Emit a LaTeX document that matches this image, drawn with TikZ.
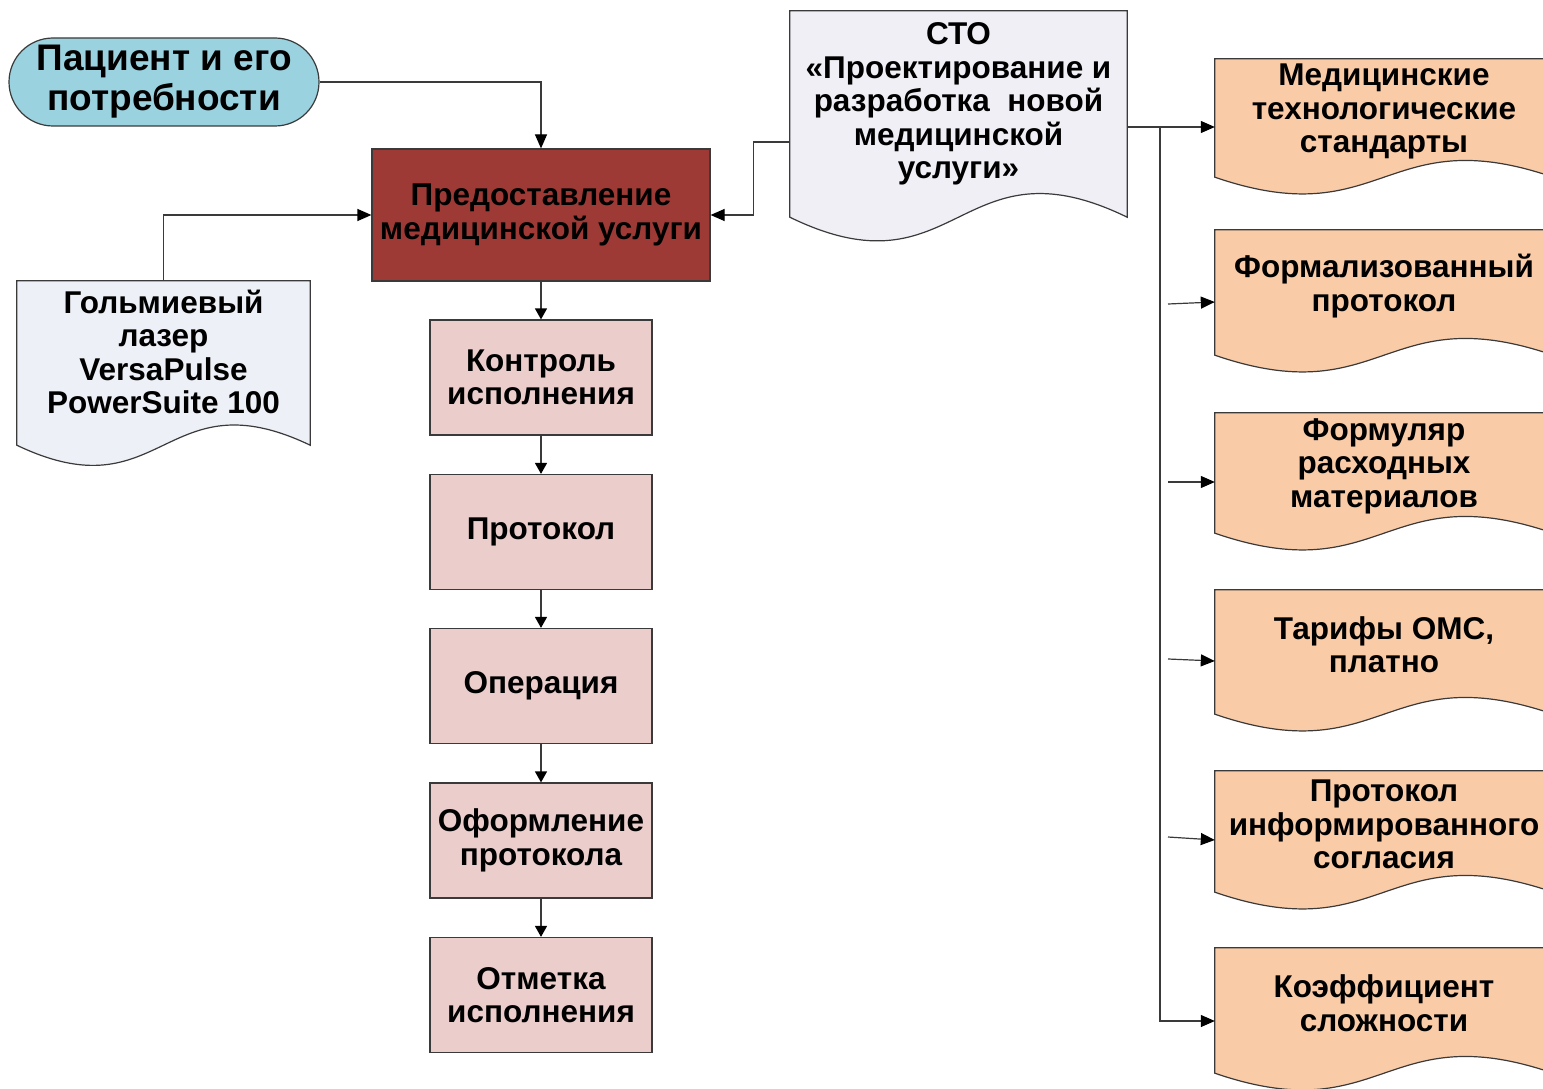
\documentclass[tikz,border=0pt]{standalone}
\usepackage{fontspec}
\setmainfont{Liberation Sans}
\usetikzlibrary{arrows.meta,calc,shapes.misc}
\definecolor{patblue}{HTML}{9BD2DF}
\definecolor{mainred}{HTML}{9E3A35}
\definecolor{pinkfill}{HTML}{EBCDCC}
\definecolor{orangedoc}{HTML}{F9CBA7}
\definecolor{ctofill}{HTML}{F0EFF5}
\definecolor{laserfill}{HTML}{EDF0F6}
\definecolor{edge}{HTML}{3A3A3A}
\newcommand\dtxt{\bfseries\fontsize{31.5}{33.5}\selectfont}
\newcommand\ptxt{\bfseries\fontsize{37}{40}\selectfont}
\newcommand\docshape[4]{%
  \path[fill=#2, draw=edge, line width=1.2pt] (#1.south west) -- (#1.north west) -- (#1.north east) -- (#1.south east) .. controls +(-#3/2,-#4) and +(#3/2,#4) .. (#1.south west) -- cycle;}
\tikzset{
  box/.style={draw=edge, line width=1.2pt, rectangle, inner sep=0pt, align=center, font=\dtxt},
  pinkbox/.style={box, fill=pinkfill, minimum width=222pt, minimum height=115pt},
  docarea/.style={rectangle, inner sep=0pt},
  lbl/.style={align=center, font=\dtxt, inner sep=0pt},
  arr/.style={draw=edge, line width=1.2pt, -{Triangle[length=14pt,width=12pt,color=black]}},
  sarr/.style={draw=edge, line width=1.2pt, -{Triangle[length=11pt,width=12pt,color=black]}}
}
\begin{document}
\begin{tikzpicture}[x=1pt,y=-1pt]
\useasboundingbox (0,0) rectangle (1543,1089);
\clip (0,0) rectangle (1543,1089);
\fill[white] (0,0) rectangle (1543,1089);

% patient
\node[draw=edge, line width=1.2pt, rounded rectangle, fill=patblue, minimum width=310pt, minimum height=88pt, inner sep=0pt, align=center, font=\ptxt] (pat) at (164,82) {Пациент и его\\потребности};

% main box
\node[box, fill=mainred, minimum width=338pt, minimum height=132pt] (main) at (541,215) {Предоставление\\медицинской услуги};

% pink chain
\node[pinkbox] (k1) at (541,377.5) {Контроль\\исполнения};
\node[pinkbox] (k2) at (541,532) {Протокол};
\node[pinkbox] (k3) at (541,686) {Операция};
\node[pinkbox] (k4) at (541,840.5) {Оформление\\протокола};
\node[pinkbox] (k5) at (541,995) {Отметка\\исполнения};

% laser document
\node[docarea, minimum width=293pt, minimum height=164pt] (laser) at (163.5,363) {};
\docshape{laser}{laserfill}{293}{70}
\node[lbl] (lasert) at (163.5,352) {Гольмиевый\\лазер\\VersaPulse\\PowerSuite 100};

% CTO document
\node[docarea, minimum width=337pt, minimum height=206pt] (cto) at (958.5,114) {};
\docshape{cto}{ctofill}{337}{82}
\node[lbl] (ctot) at (958.5,104) {СТО\\«Проектирование и\\разработка\ \ новой\\медицинской\\услуги»};

% orange documents
\node[docarea, minimum width=338pt, minimum height=118pt] (o1) at (1384,118) {};
\docshape{o1}{orangedoc}{338}{58}
\node[lbl] (o1t) at (1384,111.5) {Медицинские\\технологические\\стандарты};

\node[docarea, minimum width=338pt, minimum height=125pt] (o2) at (1384,292.5) {};
\docshape{o2}{orangedoc}{338}{58}
\node[lbl] (o2t) at (1384,286) {Формализованный\\протокол};

\node[docarea, minimum width=338pt, minimum height=120pt] (o3) at (1384,473) {};
\docshape{o3}{orangedoc}{338}{58}
\node[lbl] (o3t) at (1384,466) {Формуляр\\расходных\\материалов};

\node[docarea, minimum width=338pt, minimum height=124pt] (o4) at (1384,652) {};
\docshape{o4}{orangedoc}{338}{58}
\node[lbl] (o4t) at (1384,644.5) {Тарифы ОМС,\\платно};

\node[docarea, minimum width=338pt, minimum height=121pt] (o5) at (1384,831.5) {};
\docshape{o5}{orangedoc}{338}{58}
\node[lbl] (o5t) at (1384,824.5) {Протокол\\информированного\\согласия};

\node[docarea, minimum width=338pt, minimum height=125pt] (o6) at (1384,1010.5) {};
\docshape{o6}{orangedoc}{338}{58}
\node[lbl] (o6t) at (1384,1003) {Коэффициент\\сложности};

% connectors
\draw[arr] (pat.east) -| (main.north);
\draw[arr] (laser.north) |- (main.west);
\draw[arr] ([yshift=-28pt]cto.west) -- ++(-36,0) |- (main.east);
\coordinate (ctoR) at ([yshift=-13pt]cto.east);
\draw[arr] (ctoR) -- (ctoR -| o1.west);
\coordinate (bus) at (1160,127);
\draw[arr] (bus) |- ([yshift=-10.5pt]o6.west);

\coordinate (s2) at (1168,304);
\coordinate (s3) at (1168,482);
\coordinate (s4) at (1168,659);
\coordinate (s5) at (1168,837);
\draw[arr] (s2) -- ([yshift=-9.5pt]o2.west);
\draw[arr] (s3) -- ([yshift=-9pt]o3.west);
\draw[arr] (s4) -- ([yshift=-9pt]o4.west);
\draw[arr] (s5) -- ([yshift=-8.5pt]o5.west);

\draw[sarr] (main.south) -- (k1.north);
\draw[sarr] (k1.south) -- (k2.north);
\draw[sarr] (k2.south) -- (k3.north);
\draw[sarr] (k3.south) -- (k4.north);
\draw[sarr] (k4.south) -- (k5.north);
\end{tikzpicture}
\end{document}
